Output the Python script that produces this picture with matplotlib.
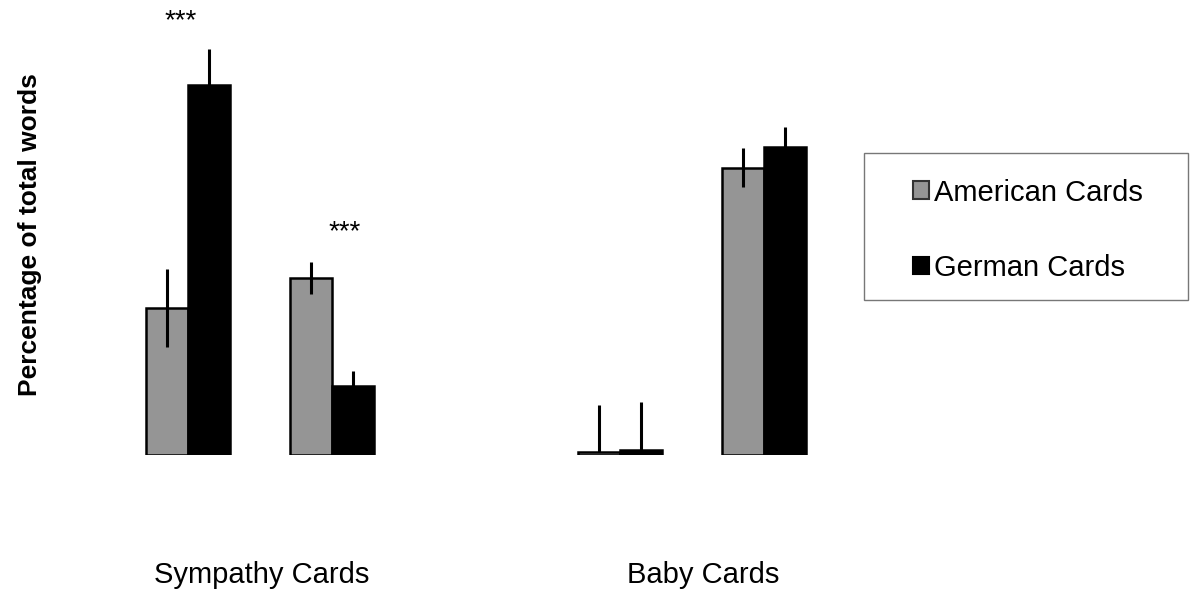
import numpy
import matplotlib
matplotlib.use("Agg")
import matplotlib.pyplot as plt
from matplotlib.patches import Rectangle, Patch

plt.rcParams['font.family'] = ['Liberation Sans', 'DejaVu Sans']

# data (percentage of total words)
GROUPS = ["Sympathy Cards", "Baby Cards"]
GROUP_POS = [0.51, 3.58]
PAIR_POS = [0, 1, 3, 4]
american = [1.47, 1.77, 0.03, 2.87]
german = [3.70, 0.69, 0.05, 3.08]
american_err_lo = [0.39, 0.16, 0.0, 0.19]
american_err_hi = [0.39, 0.16, 0.47, 0.20]
german_err_lo = [0.35, 0.15, 0.0, 0.20]
german_err_hi = [0.36, 0.15, 0.48, 0.20]
STARS = [(-0.05, 4.34, "***"), (1.09, 2.23, "***")]

GRAY = "#959595"
W = 0.29

fig = plt.figure(figsize=(11.91, 5.97), dpi=100)
ax = fig.add_axes([100 / 1191, (597 - 455) / 597, 750 / 1191, 455 / 597])

x = numpy.array(PAIR_POS, dtype=float)
ax.bar(x - W / 2, american, W, color=GRAY, edgecolor="black", linewidth=1.8,
       label="American Cards", zorder=2)
ax.bar(x + W / 2, german, W, color="black", edgecolor="black", linewidth=1.8,
       label="German Cards", zorder=2)
ax.errorbar(x - W / 2, american, yerr=[american_err_lo, american_err_hi],
            fmt="none", ecolor="black", elinewidth=2.2, capsize=0, zorder=3)
ax.errorbar(x + W / 2, german, yerr=[german_err_lo, german_err_hi],
            fmt="none", ecolor="black", elinewidth=2.2, capsize=0, zorder=3)

# significance stars
for sx, sy, s in STARS:
    ax.text(sx, sy, s, ha="center", va="center", fontsize=20, clip_on=False)

ax.set_xlim(-88 / 144, 662 / 144)
ax.set_ylim(0, 4.55)
for sp in ax.spines.values():
    sp.set_visible(False)
ax.set_yticks([])
ax.set_xticks(GROUP_POS)
ax.set_xticklabels(GROUPS, fontsize=21)
ax.tick_params(axis="x", length=0, pad=76)

fig.text(30 / 1191, 1 - 235 / 597, "Percentage of total words", rotation=90,
         ha="center", va="center", fontsize=19, fontweight="bold")

# legend box
fig.patches.append(Rectangle((864 / 1191, 1 - 300 / 597), 324 / 1191, 147 / 597,
                             transform=fig.transFigure, facecolor="white",
                             edgecolor="#777777", linewidth=1.0))
handles = [Patch(facecolor=GRAY, edgecolor="#333333", linewidth=1.5),
           Patch(facecolor="black", edgecolor="black", linewidth=1.5)]
fig.legend(handles, ["American Cards", "German Cards"], loc="upper left",
           bbox_to_anchor=(898 / 1191, 1 - 164 / 597), frameon=False,
           fontsize=21, handlelength=0.55, handleheight=0.55,
           handletextpad=0.17, labelspacing=1.62, borderpad=0)

plt.savefig("out.png", dpi=100)
